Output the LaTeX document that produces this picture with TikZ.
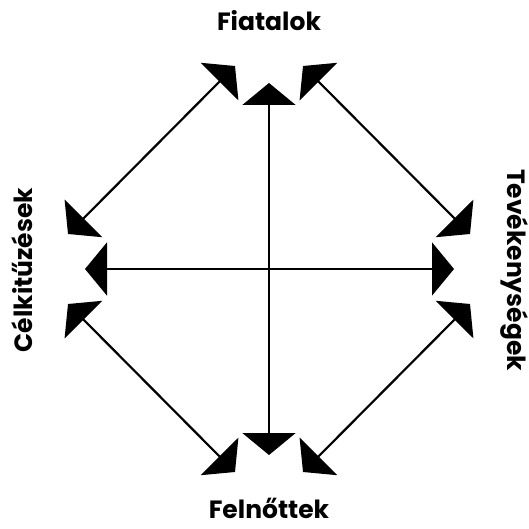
\documentclass[tikz,border=0pt]{standalone}
\usepackage{fontspec}
\setmainfont{Poppins}
\usepackage{tikz}
\usetikzlibrary{arrows.meta}

\begin{document}
\begin{tikzpicture}[x=1pt,y=-1pt,
  lbl/.style={font=\fontsize{25}{28}\selectfont\bfseries,inner sep=0pt},
  tip/.tip={Triangle[length=22pt,width=53pt]},
  dbl/.style={tip-tip,line width=2.2pt}]
\useasboundingbox (0,0) rectangle (528,529);
% labels
\node[lbl] (fiatalok) at (269,21) {Fiatalok};
\node[lbl] (felnottek) at (269,508) {Felnőttek};
\node[lbl,rotate=90] (celok) at (22,270) {Célkitűzések};
\node[lbl,rotate=-90] (tevek) at (514,270) {Tevékenységek};
% arrow ends
\coordinate (up) at (269,83);
\coordinate (down) at (269,455);
\coordinate (left) at (85,269);
\coordinate (right) at (454,269);
\coordinate (upl) at (235,66);
\coordinate (upr) at (303,66);
\coordinate (lup) at (68,234);
\coordinate (rup) at (470,234);
\coordinate (ldown) at (68,304);
\coordinate (rdown) at (470,304);
\coordinate (downl) at (235,472);
\coordinate (downr) at (303,472);
% arrows
\draw[dbl] (up) -- (down);
\draw[dbl] (left) -- (right);
\draw[dbl] (upl) -- (lup);
\draw[dbl] (upr) -- (rup);
\draw[dbl] (ldown) -- (downl);
\draw[dbl] (rdown) -- (downr);
\end{tikzpicture}
\end{document}
